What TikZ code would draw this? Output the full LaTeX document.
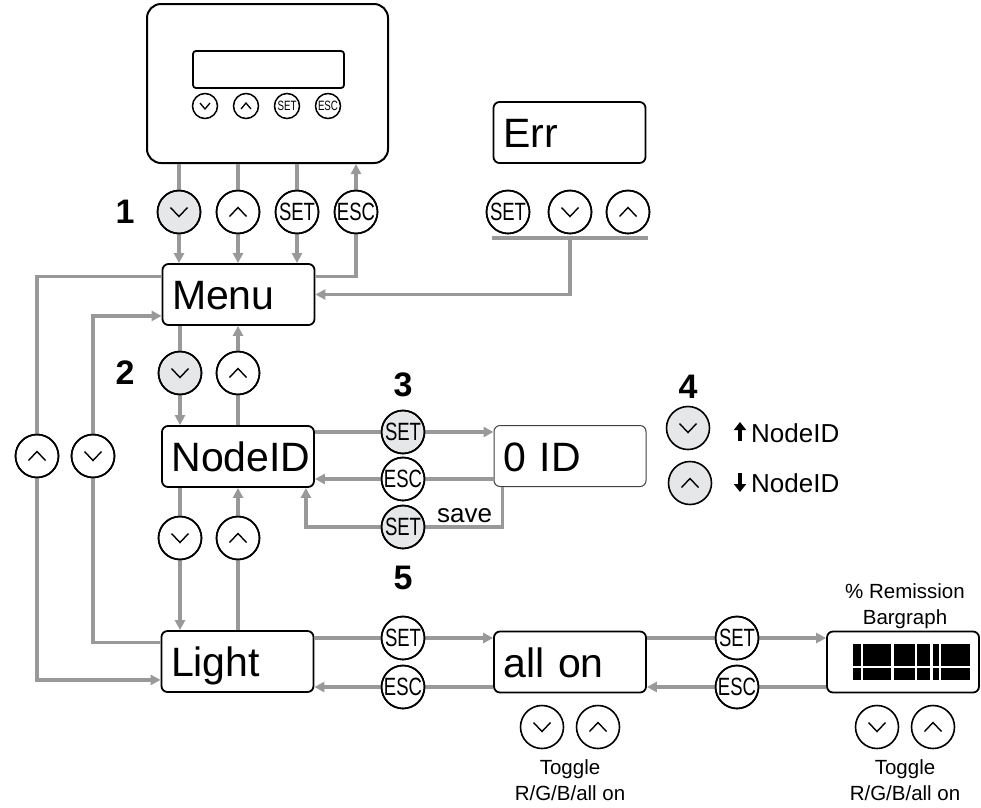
\documentclass[tikz,border=0pt]{standalone}
\usepackage{fontspec}
\setmainfont{Liberation Sans}
\usetikzlibrary{arrows.meta,calc}

\definecolor{lnk}{HTML}{999999}
\definecolor{keyfill}{HTML}{E6E7E8}

% key captions, set narrow like the printed keypad
\newcommand\keycap[1]{\fontsize{25}{25}\selectfont\scalebox{0.74}[1]{#1}}
\newcommand\minicap[1]{\fontsize{13.5}{13.5}\selectfont\scalebox{0.72}[1]{#1}}

\tikzset{
  key/.style={circle, draw=black, line width=1.6pt, fill=white, minimum size=43pt, inner sep=0pt},
  hotkey/.style={key, fill=keyfill},
  minikey/.style={circle, draw=black, line width=1.5pt, fill=white, minimum size=25pt, inner sep=0pt},
  chevdn/.style={path picture={\draw[line width=1.4pt]
      ([xshift=-8.5pt,yshift=4.5pt]path picture bounding box.center) -- ++(8.5pt,-9pt) -- ++(8.5pt,9pt);}},
  chevup/.style={path picture={\draw[line width=1.4pt]
      ([xshift=-8.5pt,yshift=-4.5pt]path picture bounding box.center) -- ++(8.5pt,9pt) -- ++(8.5pt,-9pt);}},
  minidn/.style={path picture={\draw[line width=1.3pt]
      ([xshift=-5pt,yshift=3pt]path picture bounding box.center) -- ++(5pt,-6pt) -- ++(5pt,6pt);}},
  miniup/.style={path picture={\draw[line width=1.3pt]
      ([xshift=-5pt,yshift=-3pt]path picture bounding box.center) -- ++(5pt,6pt) -- ++(5pt,-6pt);}},
  screen/.style={draw=black, line width=1.8pt, rounded corners=6pt, fill=white,
      minimum width=152pt, minimum height=61pt, text width=133pt, inner xsep=9.5pt,
      align=left, font=\fontsize{41}{42}\selectfont, text height=30pt, text depth=0pt},
  thinscreen/.style={screen, line width=1pt, draw=black!75},
  lnkline/.style={draw=lnk, line width=3.2pt},
  lnkarrow/.style={lnkline, -{Triangle[length=10pt,width=10pt]}},
  stepnum/.style={font=\fontsize{34}{34}\selectfont\bfseries, inner sep=0pt},
  note/.style={font=\fontsize{20.5}{20.5}\selectfont, inner sep=0pt},
  bignote/.style={font=\fontsize{26}{26}\selectfont, inner sep=0pt},
  bigarrow/.style={line width=3.4pt, -{Triangle[length=8pt,width=12pt]}},
}

\begin{document}
\begin{tikzpicture}[x=1pt, y=-1pt]
\useasboundingbox (0,0) rectangle (981,807);

% ---------- control unit ----------
\node[draw=black, line width=2pt, rounded corners=14pt, minimum width=241pt, minimum height=159pt] (dev) at (267.5,83.5) {};
\node[draw=black, line width=1.8pt, rounded corners=3pt, minimum width=151pt, minimum height=37pt] (lcd) at (268.5,69.5) {};
\node[minikey, minidn] (mk1) at (205,106) {};
\node[minikey, miniup] (mk2) at (246,106) {};
\node[minikey] (mk3) at (287,106) {\minicap{SET}};
\node[minikey] (mk4) at (328,106) {\minicap{ESC}};

% ---------- menu screens ----------
\node[screen] (menu)   at (238.5,294.5) {Menu};
\node[screen] (nodeid) at (238,456.5)   {NodeID};
\node[screen] (light)  at (237.5,661.5) {Light};
\node[thinscreen] (zid) at (570,456)    {0 ID};
\node[screen] (allon)  at (570,662)     {all on};
\node[screen] (bar)    at (903,662)     {};
\node[screen] (err)    at (569.5,132.5) {Err};

% bargraph segments
\fill[black] (853,644) rectangle (970,680);
\draw[white, line width=3pt] (892.5,642) -- (892.5,682) (931,642) -- (931,682);
\draw[white, line width=1.3pt] (862,642) -- (862,682) (916,642) -- (916,682) (940,642) -- (940,682)
  (851,667) -- (972,667);

% ---------- keys ----------
\node[hotkey, chevdn] (k1) at (179,212) {};
\node[key, chevup]    (k2) at (238,212) {};
\node[key]            (k3) at (297,212) {\keycap{SET}};
\node[key]            (k4) at (356,212) {\keycap{ESC}};

\node[key] (ek1) at (508,212) {\keycap{SET}};
\node[key, chevdn] (ek2) at (570,212) {};
\node[key, chevup] (ek3) at (628,212) {};

\node[hotkey, chevdn] (m2dn) at (180,373) {};
\node[key, chevup]    (m2up) at (238,373) {};

\node[key, chevup] (wrapup) at (37,456) {};
\node[key, chevdn] (wrapdn) at (93,456) {};

\node[key, chevdn] (n2dn) at (180,538) {};
\node[key, chevup] (n2up) at (238,538) {};

\node[hotkey] (set3) at (403,432) {\keycap{SET}};
\node[key]    (esc3) at (403,479) {\keycap{ESC}};
\node[hotkey] (set5) at (403,527) {\keycap{SET}};

\node[hotkey, chevdn] (inc) at (688,428) {};
\node[hotkey, chevup] (dec) at (690,483) {};

\node[key] (lset) at (403,638) {\keycap{SET}};
\node[key] (lesc) at (403,687) {\keycap{ESC}};
\node[key] (aset) at (737,638) {\keycap{SET}};
\node[key] (aesc) at (737,687) {\keycap{ESC}};

\node[key, chevdn] (tg1) at (542,727) {};
\node[key, chevup] (tg2) at (598,727) {};
\node[key, chevdn] (tg3) at (877,727) {};
\node[key, chevup] (tg4) at (933,727) {};

% ---------- step numbers and notes ----------
\node[stepnum] (s1) at (125,212) {1};
\node[stepnum] (s2) at (125,373) {2};
\node[stepnum] (s3) at (403,385) {3};
\node[stepnum] (s4) at (688,387) {4};
\node[stepnum] (s5) at (403,578) {5};

\node[bignote, anchor=base west] (save) at (437,522) {save};
\node[bignote, anchor=base west] (upid) at (751,442) {NodeID};
\node[bignote, anchor=base west] (dnid) at (751,492) {NodeID};
\draw[bigarrow] ([xshift=-11pt,yshift=1pt]upid.base west) -- ++(0pt,19pt);
\draw[bigarrow] ([xshift=-11pt,yshift=19pt]dnid.base west) -- ++(0pt,-19pt);

\node[note, anchor=base] (bt1) at (905,598) {\% Remission};
\node[note, anchor=base] (bt2) at (905,624) {Bargraph};
\node[note, anchor=base] (tga) at (570,774) {Toggle};
\node[note, anchor=base] (tgb) at (570,800) {R/G/B/all on};
\node[note, anchor=base] (tgc) at (905,774) {Toggle};
\node[note, anchor=base] (tgd) at (905,800) {R/G/B/all on};

% ---------- connectors ----------
% unit <-> Menu
\draw[lnkline]  (k1 |- dev.south) -- (k1.north);
\draw[lnkarrow] (k1.south) -- (k1 |- menu.north);
\draw[lnkline]  (k2 |- dev.south) -- (k2.north);
\draw[lnkarrow] (k2.south) -- (k2 |- menu.north);
\draw[lnkline]  (k3 |- dev.south) -- (k3.north);
\draw[lnkarrow] (k3.south) -- (k3 |- menu.north);
\draw[lnkline]  ([yshift=-13pt]menu.north east) -| (k4.south);
\draw[lnkarrow] (k4.north) -- (k4 |- dev.south);

% Err keys back to Menu
\coordinate (ebarL) at (492,238);
\coordinate (ebarR) at (648,238);
\draw[lnkline] (ebarL) -- (ebarR);
\draw[lnkarrow] (ek2 |- ebarL) |- (menu.east);

% Menu <-> Light (wrap-around)
\draw[lnkline]  ([yshift=-13pt]menu.north west) -| (wrapup.north);
\draw[lnkarrow] (wrapup.south) |- ([yshift=13pt]light.south west);
\draw[lnkline]  ([yshift=-12pt]light.north west) -| (wrapdn.south);
\draw[lnkarrow] (wrapdn.north) |- ([yshift=10pt]menu.south west);

% Menu <-> NodeID
\draw[lnkline]  (m2dn |- menu.south) -- (m2dn.north);
\draw[lnkarrow] (m2dn.south) -- (m2dn |- nodeid.north);
\draw[lnkline]  (m2up |- nodeid.north) -- (m2up.south);
\draw[lnkarrow] (m2up.north) -- (m2up |- menu.south);

% NodeID <-> Light
\draw[lnkline]  (n2dn |- nodeid.south) -- (n2dn.north);
\draw[lnkarrow] (n2dn.south) -- (n2dn |- light.north);
\draw[lnkline]  (n2up |- light.north) -- (n2up.south);
\draw[lnkarrow] (n2up.north) -- (n2up |- nodeid.south);

% NodeID <-> 0 ID
\draw[lnkline]  (nodeid.east |- set3) -- (set3.west);
\draw[lnkarrow] (set3.east) -- (set3 -| zid.west);
\draw[lnkline]  (zid.west |- esc3) -- (esc3.east);
\draw[lnkarrow] (esc3.west) -- (esc3 -| nodeid.east);
\draw[lnkline]  ([xshift=9pt]zid.south west) |- (set5.east);
\draw[lnkarrow] (set5.west) -| ([xshift=-9pt]nodeid.south east);

% Light <-> all on <-> bargraph
\draw[lnkline]  (light.east |- lset) -- (lset.west);
\draw[lnkarrow] (lset.east) -- (lset -| allon.west);
\draw[lnkline]  (allon.west |- lesc) -- (lesc.east);
\draw[lnkarrow] (lesc.west) -- (lesc -| light.east);
\draw[lnkline]  (allon.east |- aset) -- (aset.west);
\draw[lnkarrow] (aset.east) -- (aset -| bar.west);
\draw[lnkline]  (bar.west |- aesc) -- (aesc.east);
\draw[lnkarrow] (aesc.west) -- (aesc -| allon.east);

% redraw key outlines over the connector ends
\foreach \k in {k1,k2,k3,k4,ek1,ek2,ek3,m2dn,m2up,wrapup,wrapdn,n2dn,n2up,set3,esc3,set5,lset,lesc,aset,aesc}
  \draw[line width=1.6pt] (\k) circle (21.5pt);
\end{tikzpicture}
\end{document}
